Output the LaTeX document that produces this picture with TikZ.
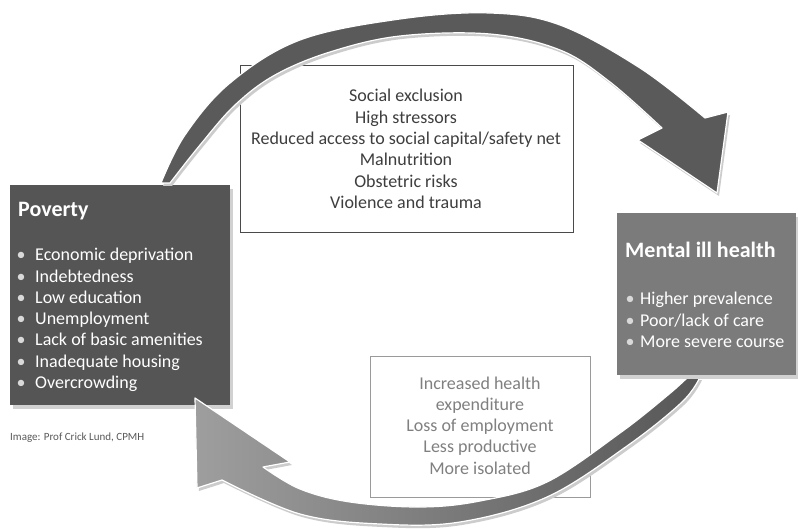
\documentclass[tikz,border=0pt]{standalone}
\usepackage{fontspec}
\setmainfont{Carlito}
\begin{document}
\definecolor{povfill}{HTML}{555555}
\definecolor{menfill}{HTML}{7B7B7B}
\definecolor{toparr}{HTML}{5A5A5A}
\definecolor{boxline}{HTML}{4A4A4A}
\definecolor{boxline2}{HTML}{9A9A9A}
\definecolor{darktext}{HTML}{3E3E3E}
\definecolor{greytext}{HTML}{808080}
\begin{tikzpicture}[x=1pt,y=-1pt,
  body/.style={inner sep=0pt, font=\fontsize{18}{21.3}\selectfont},
  heading/.style={inner sep=0pt, font=\fontsize{22}{26}\selectfont\bfseries, text=white, anchor=base west},
  bulletmark/.style={body, text=white!85!black, anchor=base},
  bullettext/.style={body, text=white, anchor=base west},
  colbox/.style={draw=none, anchor=north west, inner sep=0pt},
  framebox/.style={anchor=north west, inner sep=0pt, fill=white, line width=1.3pt},
  shadow/.style={fill=black!18},
  arrowedge/.style={draw=white, line width=1.2pt, line join=round}]
\useasboundingbox (0,0) rectangle (798,529);
\fill[white] (0,0) rectangle (798,529);

% framed text boxes
\node[framebox, draw=boxline, minimum width=333pt, minimum height=167pt] (causes) at (240,65) {};
\node[framebox, draw=boxline2, minimum width=220pt, minimum height=141pt] (effects) at (370,356) {};

% poverty box
\fill[shadow] (13,189) rectangle (233,409);
\node[colbox, fill=povfill, minimum width=220pt, minimum height=220pt] (poverty) at (10,185) {};

% top arrow (poverty -> mental ill health)
\path[fill=black!20] plot[smooth, tension=0.6] coordinates {(163,186) (187,138) (232,86) (302,43) (402,22) (492,16) (562,28) (642,71) (707,121)} -- (730,115) -- (719,196) -- (640,143) -- plot[smooth, tension=0.6] coordinates {(664,131) (612,85) (562,53) (492,37) (402,39) (332,55) (277,78) (237,108) (202,148) (172,186)} -- cycle;
\path[fill=toparr, arrowedge] plot[smooth, tension=0.6] coordinates {(161,183) (185,135) (230,83) (300,40) (400,19) (490,13) (560,25) (640,68) (705,118)} -- (728,112) -- (717,193) -- (638,140) -- plot[smooth, tension=0.6] coordinates {(662,128) (610,82) (560,50) (490,34) (400,36) (330,52) (275,75) (235,105) (200,145) (170,183)} -- cycle;

% bottom arrow (mental ill health -> poverty)
\path[fill=black!20] plot[smooth, tension=0.6] coordinates {(702,380) (684,405) (629,449) (549,500) (462,525) (382,527) (302,517) (224,483)} -- (199,491) -- (197,401) -- (292,465) -- plot[smooth, tension=0.6] coordinates {(265,470) (302,492) (352,505) (422,510) (482,504) (549,485) (622,436) (670,398) (690,380)} -- cycle;
\path[left color=black!38, middle color=black!36, right color=black!66, arrowedge] plot[smooth, tension=0.6] coordinates {(700,377) (682,402) (627,446) (547,497) (460,522) (380,524) (300,514) (222,480)} -- (197,488) -- (195,398) -- (290,462) -- plot[smooth, tension=0.6] coordinates {(263,467) (300,489) (350,502) (420,507) (480,501) (547,482) (620,433) (668,395) (688,377)} -- cycle;

% mental ill health box
\fill[shadow] (620,217) rectangle (798,379);
\node[colbox, fill=menfill, minimum width=179pt, minimum height=162pt] (mental) at (617,213) {};

% poverty text
\node[heading] (povtitle) at (18,217) {Poverty};
\foreach \t [count=\i] in {Economic deprivation, Indebtedness, Low education, Unemployment, Lack of basic amenities, Inadequate housing, Overcrowding}{
  \node[bulletmark] (povb\i) at (21,{261+21.2*(\i-1)}) {•};
  \node[bullettext] (povt\i) at (35,{261+21.2*(\i-1)}) {\t};
}

% mental text
\node[heading] (mentitle) at (625,258) {Mental ill health};
\foreach \t [count=\i] in {Higher prevalence, Poor/lack of care, More severe course}{
  \node[bulletmark] (menb\i) at (630,{305+21.4*(\i-1)}) {•};
  \node[bullettext] (ment\i) at (640,{305+21.4*(\i-1)}) {\t};
}

% causes text
\foreach \t [count=\i] in {Social exclusion, High stressors, Reduced access to social capital/safety net, Malnutrition, Obstetric risks, Violence and trauma}{
  \node[body, text=darktext, anchor=base] (cause\i) at (406,{102+21.3*(\i-1)}) {\t};
}

% effects text
\foreach \t [count=\i] in {Increased health, expenditure, Loss of employment, Less productive, More isolated}{
  \node[body, text=greytext, anchor=base] (eff\i) at (480,{389+21.3*(\i-1)}) {\t};
}

% credit
\node[inner sep=0pt, anchor=base west, font=\fontsize{11}{13}\selectfont, text=black!65] (credit) at (10,440) {Image: Prof Crick Lund, CPMH};
\end{tikzpicture}
\end{document}
